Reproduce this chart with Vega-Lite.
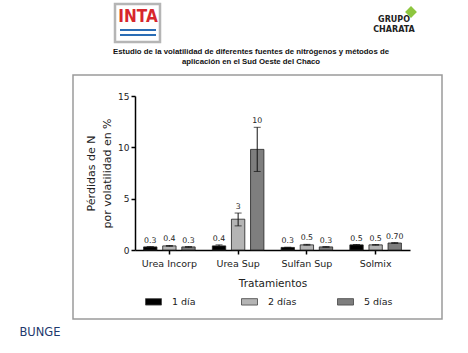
{
  "$schema": "https://vega.github.io/schema/vega-lite/v6.json",
  "width": 369,
  "height": 244,
  "autosize": {"type": "none"},
  "padding": {"left": 73, "top": 75, "right": 26, "bottom": 34},
  "background": "white",
  "config": {
    "view": {"stroke": "#9a9a9a", "strokeWidth": 1.5},
    "font": "DejaVu Sans"
  },
  "layer": [
    {
      "data": {
        "values": [
          {"trat": "Urea Incorp", "dia": "1 día", "value": 0.3, "lo": 0.27, "hi": 0.33, "label": "0.3"},
          {"trat": "Urea Incorp", "dia": "2 días", "value": 0.4, "lo": 0.36, "hi": 0.44, "label": "0.4"},
          {"trat": "Urea Incorp", "dia": "5 días", "value": 0.3, "lo": 0.27, "hi": 0.33, "label": "0.3"},
          {"trat": "Urea Sup", "dia": "1 día", "value": 0.4, "lo": 0.33, "hi": 0.5, "label": "0.4"},
          {"trat": "Urea Sup", "dia": "2 días", "value": 3.0, "lo": 2.35, "hi": 3.6, "label": "3"},
          {"trat": "Urea Sup", "dia": "5 días", "value": 9.8, "lo": 7.65, "hi": 11.95, "label": "10"},
          {"trat": "Sulfan Sup", "dia": "1 día", "value": 0.25, "lo": 0.23, "hi": 0.27, "label": "0.3"},
          {"trat": "Sulfan Sup", "dia": "2 días", "value": 0.5, "lo": 0.47, "hi": 0.55, "label": "0.5"},
          {"trat": "Sulfan Sup", "dia": "5 días", "value": 0.3, "lo": 0.27, "hi": 0.33, "label": "0.3"},
          {"trat": "Solmix", "dia": "1 día", "value": 0.5, "lo": 0.47, "hi": 0.53, "label": "0.5"},
          {"trat": "Solmix", "dia": "2 días", "value": 0.5, "lo": 0.47, "hi": 0.53, "label": "0.5"},
          {"trat": "Solmix", "dia": "5 días", "value": 0.68, "lo": 0.65, "hi": 0.72, "label": "0.70"}
        ]
      },
      "encoding": {
        "x": {
          "field": "trat",
          "type": "nominal",
          "sort": ["Urea Incorp", "Urea Sup", "Sulfan Sup", "Solmix"],
          "scale": {"range": [62, 337], "paddingInner": 0.25, "paddingOuter": 0.125},
          "axis": {
            "orient": "bottom",
            "offset": -69,
            "labelAngle": 0,
            "tickSize": 4,
            "tickWidth": 1.5,
            "tickColor": "#000",
            "domainColor": "#000",
            "domainWidth": 1.5,
            "labelPadding": 4,
            "labelFontSize": 9.5,
            "labelColor": "#222",
            "title": "Tratamientos",
            "titleFontSize": 10.5,
            "titleFontWeight": "normal",
            "titleColor": "#222",
            "titlePadding": 11
          }
        },
        "xOffset": {
          "field": "dia",
          "type": "nominal",
          "sort": ["1 día", "2 días", "5 días"],
          "scale": {"paddingInner": 0.3, "paddingOuter": 0}
        }
      },
      "layer": [
        {
          "mark": {"type": "bar", "stroke": "#222", "strokeWidth": 0.8},
          "encoding": {
            "y": {
              "field": "value",
              "type": "quantitative",
              "scale": {"domain": [0, 15], "range": [175, 21], "nice": false},
              "axis": {
                "orient": "left",
                "offset": -62,
                "values": [0, 5, 10, 15],
                "grid": false,
                "tickSize": 4,
                "tickWidth": 1.5,
                "tickColor": "#000",
                "domainColor": "#000",
                "domainWidth": 1.5,
                "labelPadding": 2,
                "labelFontSize": 9,
                "labelColor": "#222",
                "title": ["Pérdidas de N", "por volatilidad en %"],
                "titleFontSize": 11,
                "titleFontWeight": "normal",
                "titleColor": "#222",
                "titleLineHeight": 16,
                "titlePadding": 5
              }
            },
            "color": {
              "field": "dia",
              "type": "nominal",
              "sort": ["1 día", "2 días", "5 días"],
              "scale": {"domain": ["1 día", "2 días", "5 días"], "range": ["#000000", "#b4b4b4", "#7e7e7e"]},
              "legend": {
                "orient": "none",
                "legendX": 72,
                "legendY": 218,
                "direction": "horizontal",
                "title": null,
                "columns": 3,
                "gridAlign": "all",
                "columnPadding": 38,
                "symbolType": "M-1,-0.4H1V0.4H-1Z",
                "symbolSize": 256,
                "symbolStrokeColor": "#444",
                "symbolStrokeWidth": 0.8,
                "labelOffset": 10,
                "labelFontSize": 9.5,
                "labelColor": "#222"
              }
            }
          }
        },
        {
          "mark": {"type": "rule", "color": "#111", "strokeWidth": 1},
          "encoding": {
            "y": {"field": "lo", "type": "quantitative"},
            "y2": {"field": "hi"}
          }
        },
        {
          "mark": {"type": "tick", "color": "#111", "thickness": 1, "size": 7},
          "encoding": {
            "y": {"field": "hi", "type": "quantitative"}
          }
        },
        {
          "mark": {"type": "tick", "color": "#111", "thickness": 1, "size": 7},
          "encoding": {
            "y": {"field": "lo", "type": "quantitative"}
          }
        },
        {
          "mark": {"type": "text", "baseline": "alphabetic", "dy": -4, "fontSize": 7.8, "color": "#222"},
          "encoding": {
            "y": {"field": "hi", "type": "quantitative"},
            "text": {"field": "label"}
          }
        }
      ]
    },
    {
      "data": {"values": [{"t": "Estudio de la volatilidad de diferentes fuentes de nitrógenos y métodos de\naplicación en el Sud Oeste del Chaco"}]},
      "mark": {"type": "text", "lineBreak": "\n", "font": "Liberation Sans", "fontWeight": "bold", "fontSize": 7.8, "lineHeight": 10, "color": "#111", "align": "center", "baseline": "middle"},
      "encoding": {
        "x": {"value": 178},
        "y": {"value": -23},
        "text": {"field": "t"}
      }
    },
    {
      "data": {"values": [{"t": "INTA"}]},
      "mark": {"type": "rect", "fill": "white", "stroke": "#b5b5b5", "strokeWidth": 2.5},
      "encoding": {
        "x": {"value": 42},
        "x2": {"value": 87},
        "y": {"value": -71},
        "y2": {"value": -33}
      }
    },
    {
      "data": {"values": [{"t": "a"}]},
      "mark": {"type": "rule", "color": "#2a6db5", "strokeWidth": 2},
      "encoding": {
        "x": {"value": 47},
        "x2": {"value": 83},
        "y": {"value": -45}
      }
    },
    {
      "data": {"values": [{"t": "b"}]},
      "mark": {"type": "rule", "color": "#2a6db5", "strokeWidth": 2},
      "encoding": {
        "x": {"value": 47},
        "x2": {"value": 83},
        "y": {"value": -40}
      }
    },
    {
      "data": {"values": [{"t": "INTA"}]},
      "mark": {"type": "text", "font": "DejaVu Sans Condensed", "fontWeight": "bold", "fontSize": 17, "color": "#d7262c", "align": "center", "baseline": "middle"},
      "encoding": {
        "x": {"value": 65},
        "y": {"value": -58},
        "text": {"field": "t"}
      }
    },
    {
      "data": {"values": [{"t": "GRUPO\nCHARATA"}]},
      "mark": {"type": "text", "lineBreak": "\n", "font": "DejaVu Sans", "fontWeight": "bold", "fontSize": 8, "lineHeight": 10, "color": "#222", "align": "center", "baseline": "middle"},
      "encoding": {
        "x": {"value": 321},
        "y": {"value": -55},
        "text": {"field": "t"}
      }
    },
    {
      "data": {"values": [{"t": "leaf"}]},
      "mark": {"type": "point", "shape": "diamond", "filled": true, "color": "#8dc63f", "size": 140, "opacity": 1},
      "encoding": {
        "x": {"value": 338},
        "y": {"value": -63}
      }
    },
    {
      "data": {"values": [{"t": "BUNGE"}]},
      "mark": {"type": "text", "font": "DejaVu Sans", "fontSize": 11.5, "color": "#1f3a6e", "align": "center", "baseline": "middle"},
      "encoding": {
        "x": {"value": -33},
        "y": {"value": 258},
        "text": {"field": "t"}
      }
    }
  ]
}
